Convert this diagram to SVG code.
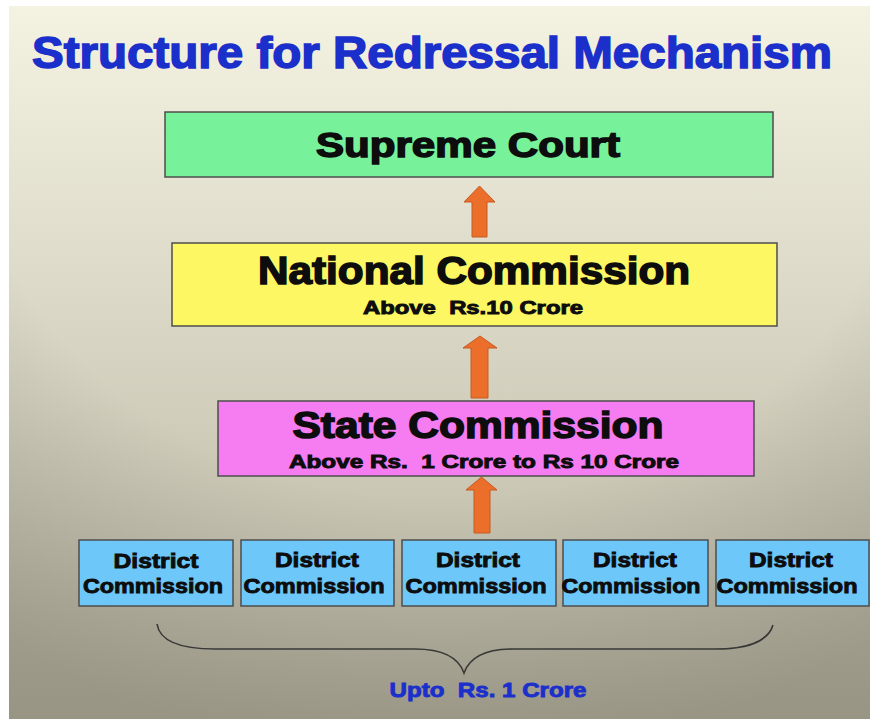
<svg xmlns="http://www.w3.org/2000/svg" width="870" height="727" viewBox="0 0 870 727">
  <defs>
    <linearGradient id="bg" x1="0" y1="0" x2="0" y2="1">
      <stop offset="0" stop-color="#f4f2e1"/>
      <stop offset="0.4" stop-color="#dcd9c8"/>
      <stop offset="0.75" stop-color="#c6c2b0"/>
      <stop offset="1" stop-color="#b4b09e"/>
    </linearGradient>
    <radialGradient id="vignette" cx="0.5" cy="0.15" r="0.9">
      <stop offset="0.6" stop-color="#000" stop-opacity="0"/>
      <stop offset="1" stop-color="#2a281f" stop-opacity="0.2"/>
    </radialGradient>
    <style>
      .box { stroke: #4d4d4d; stroke-width: 1.5; }
      .lbl { font-family: "Liberation Sans", Arial, sans-serif; font-weight: bold; fill: #0d0d0d; stroke: #0d0d0d; text-anchor: middle; white-space: pre; }
      .big { stroke-width: 1.5; }
      .small { stroke-width: 0.9; }
      .blue { fill: #1b2fcb; stroke: #1b2fcb; }
      .arrow { fill: #eb6e2b; stroke: #c65a22; stroke-width: 1; }
    </style>
  </defs>

  <!-- slide background with white margins -->
  <rect x="0" y="0" width="870" height="727" fill="#ffffff"/>
  <rect x="9" y="6" width="861" height="713" fill="url(#bg)"/>
  <rect x="9" y="6" width="861" height="713" fill="url(#vignette)"/>

  <!-- title -->
  <text class="lbl blue big" x="432" y="68" font-size="44" textLength="800" lengthAdjust="spacingAndGlyphs">Structure for Redressal Mechanism</text>

  <g id="supreme-court">
    <rect class="box" x="165" y="112" width="608" height="65" fill="#77f29b"/>
    <text class="lbl big" x="468" y="157" font-size="35" textLength="304" lengthAdjust="spacingAndGlyphs">Supreme Court</text>
  </g>

  <g id="national-commission">
    <rect class="box" x="172" y="243" width="605" height="83" fill="#fcf763"/>
    <text class="lbl big" x="474" y="284" font-size="38" textLength="432" lengthAdjust="spacingAndGlyphs">National Commission</text>
    <text class="lbl small" x="473" y="314" font-size="18" textLength="220" lengthAdjust="spacingAndGlyphs">Above  Rs.10 Crore</text>
  </g>

  <g id="state-commission">
    <rect class="box" x="218" y="401" width="536" height="75" fill="#f57cf1"/>
    <text class="lbl big" x="478" y="438" font-size="37" textLength="371" lengthAdjust="spacingAndGlyphs">State Commission</text>
    <text class="lbl small" x="484" y="468" font-size="18" textLength="390" lengthAdjust="spacingAndGlyphs">Above Rs.  1 Crore to Rs 10 Crore</text>
  </g>

  <g id="district-1">
    <rect class="box" x="79" y="540" width="154" height="66" fill="#6dc8f9"/>
    <text class="lbl small" x="156" y="568" font-size="21" textLength="85" lengthAdjust="spacingAndGlyphs">District</text>
    <text class="lbl small" x="153" y="593" font-size="21" textLength="140" lengthAdjust="spacingAndGlyphs">Commission</text>
  </g>
  <g id="district-2">
    <rect class="box" x="241" y="540" width="153" height="66" fill="#6dc8f9"/>
    <text class="lbl small" x="317" y="567" font-size="21" textLength="84" lengthAdjust="spacingAndGlyphs">District</text>
    <text class="lbl small" x="314" y="593" font-size="21" textLength="141" lengthAdjust="spacingAndGlyphs">Commission</text>
  </g>
  <g id="district-3">
    <rect class="box" x="402" y="540" width="154" height="66" fill="#6dc8f9"/>
    <text class="lbl small" x="478" y="567" font-size="21" textLength="84" lengthAdjust="spacingAndGlyphs">District</text>
    <text class="lbl small" x="476" y="593" font-size="21" textLength="141" lengthAdjust="spacingAndGlyphs">Commission</text>
  </g>
  <g id="district-4">
    <rect class="box" x="563" y="540" width="145" height="66" fill="#6dc8f9"/>
    <text class="lbl small" x="635" y="567" font-size="21" textLength="84" lengthAdjust="spacingAndGlyphs">District</text>
    <text class="lbl small" x="631" y="593" font-size="21" textLength="139" lengthAdjust="spacingAndGlyphs">Commission</text>
  </g>
  <g id="district-5">
    <rect class="box" x="716" y="540" width="153" height="66" fill="#6dc8f9"/>
    <text class="lbl small" x="791" y="567" font-size="21" textLength="84" lengthAdjust="spacingAndGlyphs">District</text>
    <text class="lbl small" x="787" y="593" font-size="21" textLength="141" lengthAdjust="spacingAndGlyphs">Commission</text>
  </g>

  <g id="connectors">
    <polygon class="arrow" points="479.5,186 495,202 487,202 487,237 472,237 472,202 464,202"/>
    <polygon class="arrow" points="480,336 497,348 488,348 488,398 471,398 471,348 463,348"/>
    <polygon class="arrow" points="481.5,477 497,490 490,490 490,533 474,533 474,490 466,490"/>
  </g>

  <g id="brace">
    <path d="M157,624 C160,643 185,649 215,649 L415,649 C440,649 458,656 464,673 C470,656 488,649 513,649 L715,649 C745,649 768,642 773,625" fill="none" stroke="#383838" stroke-width="1.6"/>
    <text class="lbl blue small" x="488" y="697" font-size="21" textLength="197" lengthAdjust="spacingAndGlyphs">Upto  Rs. 1 Crore</text>
  </g>
</svg>
